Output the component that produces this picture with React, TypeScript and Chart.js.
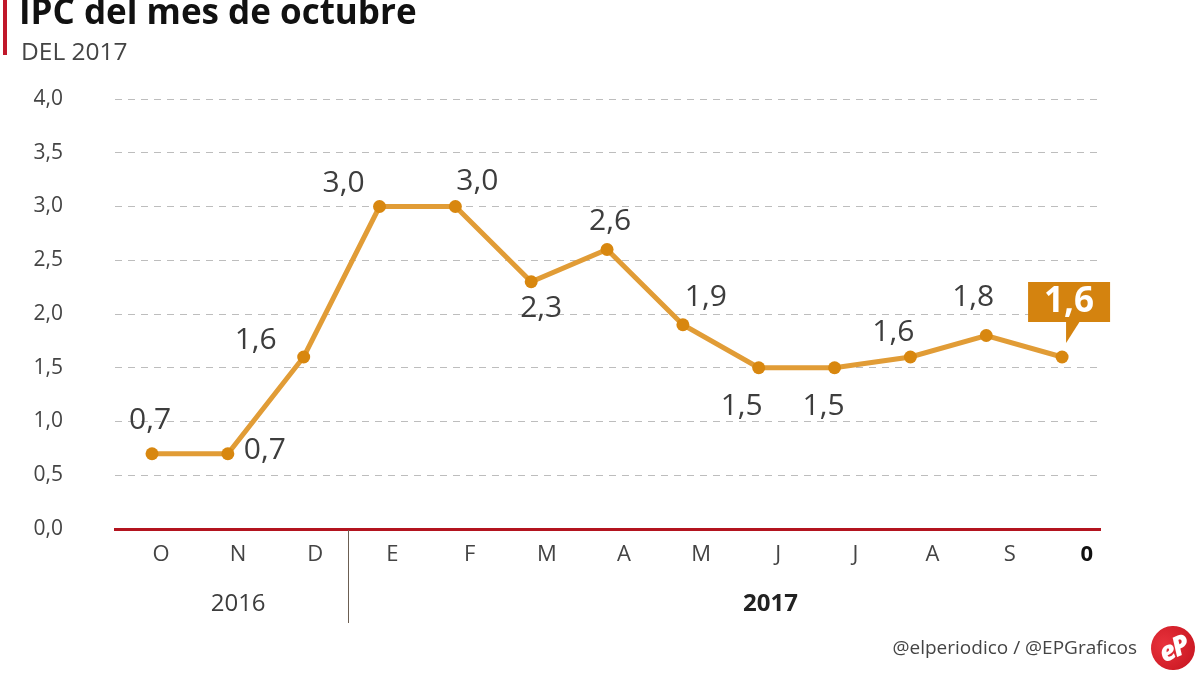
import React, { useEffect, useRef } from "react";
import { Chart, registerables } from "chart.js";

Chart.register(...registerables);

const FONT = "'Open Sans', 'Noto Sans', sans-serif";

// ---- data ----
const months = ["O", "N", "D", "E", "F", "M", "A", "M", "J", "J", "A", "S", "0"];
const ipc = [0.7, 0.7, 1.6, 3.0, 3.0, 2.3, 2.6, 1.9, 1.5, 1.5, 1.6, 1.8, 1.6];
const years = ["2016", "2017"];
const yearCenters = [1, 7.9]; // in month-axis units
const yMin = 0;
const yMax = 4;
const yStep = 0.5;

// label offsets (text placement relative to each point), px
const labelOffsets: [number, number][] = [
  [-2, -33], [37, -3], [-48, -17], [-36, -23], [22, -25], [10, 27],
  [3, -28], [23, -27], [-17, 39], [-11, 39], [-17, -25], [-13, -38],
];

const fmt = (v: number) => v.toFixed(1).replace(".", ",");

const LINE = "#E19C36";
const POINT = "#D8870F";
const CALLOUT = "#D4830F";
const TEXT = "#3d3d3d";

const overlayPlugin = {
  id: "overlay",
  afterDatasetsDraw(chart: any) {
    const ctx = chart.ctx;
    const meta = chart.getDatasetMeta(0);
    const xs = chart.scales.x;
    const x2 = chart.scales.x2;
    const area = chart.chartArea;
    ctx.save();
    // value labels
    ctx.font = `30px ${FONT}`;
    ctx.fillStyle = TEXT;
    ctx.textAlign = "center";
    ctx.textBaseline = "middle";
    meta.data.forEach((pt: any, i: number) => {
      if (i >= labelOffsets.length) return;
      const [dx, dy] = labelOffsets[i];
      ctx.fillText(fmt(ipc[i]), pt.x + dx, pt.y + dy);
    });
    // callout for last value
    const last = meta.data[meta.data.length - 1];
    const px = last.x;
    const py = last.y;
    ctx.fillStyle = CALLOUT;
    ctx.fillRect(px - 34, py - 75, 82, 40);
    ctx.beginPath();
    ctx.moveTo(px + 4, py - 36);
    ctx.lineTo(px + 18, py - 36);
    ctx.lineTo(px + 4, py - 14);
    ctx.closePath();
    ctx.fill();
    ctx.fillStyle = "#ffffff";
    ctx.font = `bold 35px ${FONT}`;
    ctx.fillText(fmt(ipc[ipc.length - 1]), px + 7, py - 55);

    // separator between years
    const sepX = Math.round((xs.getPixelForValue(2.5) + x2.getPixelForValue(2.5)) / 2) + 0.5;
    ctx.strokeStyle = "#6b5e52";
    ctx.lineWidth = 1;
    ctx.beginPath();
    ctx.moveTo(sepX, area.bottom + 1);
    ctx.lineTo(sepX, 623);
    ctx.stroke();

    // year labels
    years.forEach((y, i) => {
      ctx.font = `${i === 1 ? "bold " : ""}24px ${FONT}`;
      ctx.fillStyle = i === 1 ? "#222" : TEXT;
      ctx.fillText(y, x2.getPixelForValue(yearCenters[i]), 604);
    });
    ctx.restore();
  },
};

export default function App() {
  const ref = useRef<HTMLCanvasElement | null>(null);

  useEffect(() => {
    if (!ref.current) return;
    const chart = new Chart(ref.current, {
      type: "line",
      data: {
        datasets: [
          {
            data: ipc.map((v, i) => ({ x: i, y: v })),
            xAxisID: "x",
            yAxisID: "y",
            borderColor: LINE,
            borderWidth: 5,
            pointRadius: 6.5,
            pointBackgroundColor: POINT,
            pointBorderWidth: 0,
            tension: 0,
            clip: false as any,
          },
        ],
      },
      options: {
        responsive: false,
        animation: false,
        devicePixelRatio: 1,
        layout: { padding: { top: 99, right: 100, bottom: 0, left: 0 } },
        plugins: {
          legend: { display: false },
          tooltip: { enabled: false },
          title: { display: false },
        },
        scales: {
          x: {
            type: "linear",
            display: false,
            min: -0.488,
            max: 12.5,
          },
          x2: {
            type: "linear",
            position: "bottom",
            min: -0.596,
            max: 12.17,
            afterBuildTicks: (axis: any) => {
              axis.ticks = months.map((_, i) => ({ value: i }));
            },
            afterFit: (s: any) => {
              s.height = 146;
            },
            grid: { display: false, drawTicks: false },
            border: { display: true, color: "#B3141F", width: 3 },
            ticks: {
              autoSkip: false,
              maxRotation: 0,
              padding: 13,
              callback: (_v: any, i: number) => months[i],
              color: (c: any) => (c.index === months.length - 1 ? "#111" : "#444"),
              font: (c: any) => ({
                family: FONT,
                size: 22,
                weight: c.index === months.length - 1 ? "bold" : "normal",
              }),
            },
          },
          y: {
            type: "linear",
            min: yMin,
            max: yMax,
            afterFit: (s: any) => {
              s.width = 115;
            },
            grid: { color: "#bdbdbd", lineWidth: 1, drawTicks: false },
            border: { display: false, dash: [7, 6] },
            ticks: {
              stepSize: yStep,
              padding: 52,
              color: "#444",
              font: { family: FONT, size: 21 },
              callback: (v: any) => fmt(Number(v)),
            },
          },
        },
      },
      plugins: [overlayPlugin],
    });
    return () => chart.destroy();
  }, []);

  return (
    <div
      style={{
        position: "fixed",
        left: 0,
        top: 0,
        width: 1200,
        height: 675,
        background: "#fff",
        overflow: "hidden",
        fontFamily: FONT,
      }}
    >
      <canvas ref={ref} width={1200} height={675} style={{ position: "absolute", left: 0, top: 0 }} />
      <div style={{ position: "absolute", left: 3, top: 0, width: 4, height: 55, background: "#C0182A" }} />
      <div
        style={{
          position: "absolute",
          left: 19,
          top: -7,
          fontSize: 35,
          lineHeight: "35px",
          fontWeight: 700,
          color: "#111",
          whiteSpace: "nowrap",
        }}
      >
        IPC del mes de octubre
      </div>
      <div
        style={{
          position: "absolute",
          left: 21,
          top: 39,
          fontSize: 24.5,
          lineHeight: "24px",
          color: "#444",
          whiteSpace: "nowrap",
        }}
      >
        DEL 2017
      </div>
      <div
        style={{
          position: "absolute",
          right: 63,
          top: 635,
          fontSize: 19,
          lineHeight: "24px",
          color: "#444",
          whiteSpace: "nowrap",
        }}
      >
        @elperiodico / @EPGraficos
      </div>
      <div
        style={{
          position: "absolute",
          left: 1151,
          top: 626,
          width: 44,
          height: 44,
          borderRadius: "50%",
          background: "radial-gradient(circle at 35% 35%, #e8323c, #c4121d)",
          color: "#fff",
          fontWeight: 800,
          fontStyle: "italic",
          fontSize: 27,
          lineHeight: "44px",
          textAlign: "center",
          letterSpacing: -2,
          transform: "rotate(-25deg)",
        }}
      >
        eP
      </div>
    </div>
  );
}
